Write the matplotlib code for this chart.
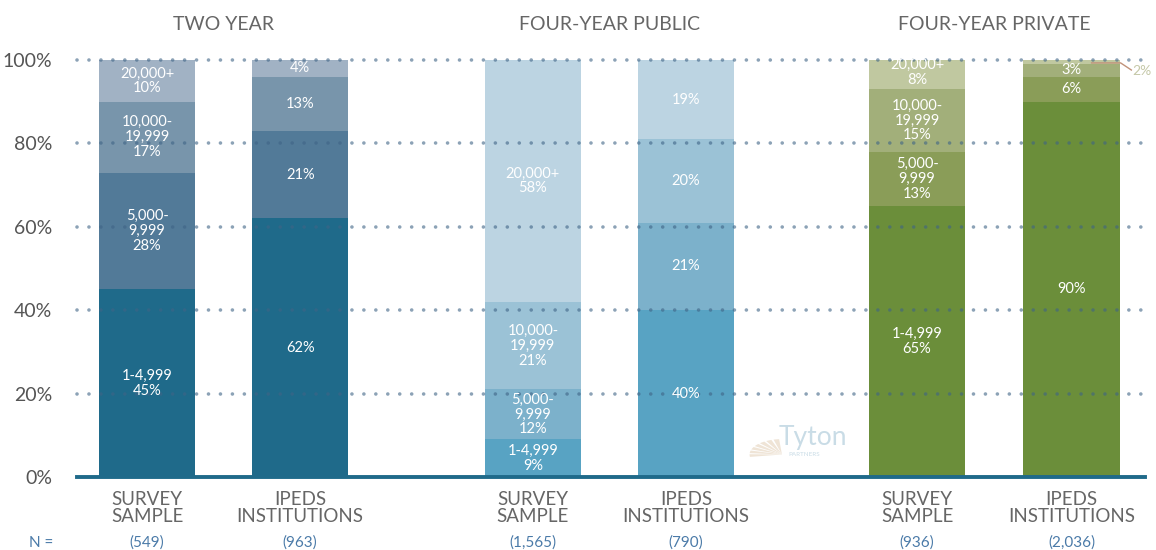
import numpy as np
import matplotlib.pyplot as plt
from matplotlib.patches import Wedge

plt.rcParams['font.family'] = ['Lato', 'DejaVu Sans']

# data
groups = ['TWO YEAR', 'FOUR-YEAR PUBLIC', 'FOUR-YEAR PRIVATE']
bar_names = ['SURVEY\nSAMPLE', 'IPEDS\nINSTITUTIONS'] * 3
n_labels = ['(549)', '(963)', '(1,565)', '(790)', '(936)', '(2,036)']
sizes = ['1-4,999', '5,000-\n9,999', '10,000-\n19,999', '20,000+']
# share of each size band, bottom to top, per bar
shares = [
    [45, 28, 17, 10],
    [62, 21, 13, 4],
    [9, 12, 21, 58],
    [40, 21, 20, 19],
    [65, 13, 15, 8],
    [90, 6, 3, 2],
]
show_names = [True, False, True, False, True, False]
palettes = [
    ['#1f6a8a', '#527a98', '#7895ab', '#a1b2c4'],
    ['#58a3c3', '#7cb1cb', '#9bc2d6', '#bcd4e2'],
    ['#6b8e3a', '#8a9d58', '#a2af7a', '#c0c8a0'],
]

xpos = np.array([0, 1, 2.52, 3.52, 5.03, 6.04])
width = 0.63

fig = plt.figure(figsize=(11.56, 5.5), dpi=100)
ax = fig.add_axes([0.0666, 0.1327, 0.9240, 0.7582])

for i, vals in enumerate(shares):
    cols = palettes[i // 2]
    bottom = 0
    for j, v in enumerate(vals):
        ax.bar(xpos[i], v, width, bottom=bottom, color=cols[j], zorder=1)
        if not (i == 5 and j == 3):
            lab = f'{v}%'
            if show_names[i]:
                lab = sizes[j] + '\n' + lab
            ax.text(xpos[i], bottom + v / 2, lab, ha='center', va='center',
                    color='white', fontsize=10.5, linespacing=1.08, zorder=4)
        bottom += v

# 2% callout
ax.plot([xpos[5] + 0.13, xpos[5] + 0.32, xpos[5] + 0.39],
        [99.3, 99.3, 97.6], color='#c0927a', lw=1, zorder=5, clip_on=False)
ax.text(xpos[5] + 0.395, 97.4, '2%', color='#c5c8a8', fontsize=10,
        va='center', ha='left', zorder=5, clip_on=False)

ax.set_xlim(-0.458, 6.52)
ax.set_ylim(0, 100)

for yv in [20, 40, 60, 80, 100]:
    ax.axhline(yv, color='#3f6486', alpha=0.6, lw=2.6,
               linestyle=(0, (0.01, 3.3)), dash_capstyle='round', zorder=3,
               clip_on=False)
ax.axhline(0, color='#1f6a8a', lw=2.8, zorder=5, clip_on=False)

for s in ax.spines.values():
    s.set_visible(False)
ax.set_yticks([0, 20, 40, 60, 80, 100])
ax.set_yticklabels(['0%', '20%', '40%', '60%', '80%', '100%'], fontsize=14,
                   color='#555555')
ax.tick_params(axis='y', length=0, pad=18)
ax.set_xticks(xpos)
ax.set_xticklabels(bar_names, fontsize=13.5, color='#666666', linespacing=1.0)
ax.tick_params(axis='x', length=0, pad=10)

for k, name in enumerate(groups):
    cx = (xpos[2 * k] + xpos[2 * k + 1]) / 2
    ax.text(cx, 108.6, name, ha='center', va='center', fontsize=14,
            color='#666666', clip_on=False)

for i, nl in enumerate(n_labels):
    ax.text(xpos[i], -15.8, nl, ha='center', va='center', fontsize=11,
            color='#4a7aa8', clip_on=False)
ax.text(-0.69, -15.8, 'N =', ha='center', va='center', fontsize=11,
        color='#4a7aa8', clip_on=False)

# logo
lx, ly = 775 / 1156, 1 - 438 / 550
for a in range(7):
    w = Wedge((lx + 0.006, ly - 0.03), 0.028, 95 + a * 14, 105 + a * 14,
              transform=fig.transFigure, color='#efe4d6', lw=0)
    fig.patches.append(w)
fig.text(lx + 0.003, ly, 'Tyton', fontsize=19, color='#c9dce6',
         ha='left', va='center')
fig.text(lx + 0.012, ly - 0.03, 'PARTNERS', fontsize=4.5, color='#c9dce6',
         ha='left', va='center')

fig.savefig('out.png', dpi=100)
